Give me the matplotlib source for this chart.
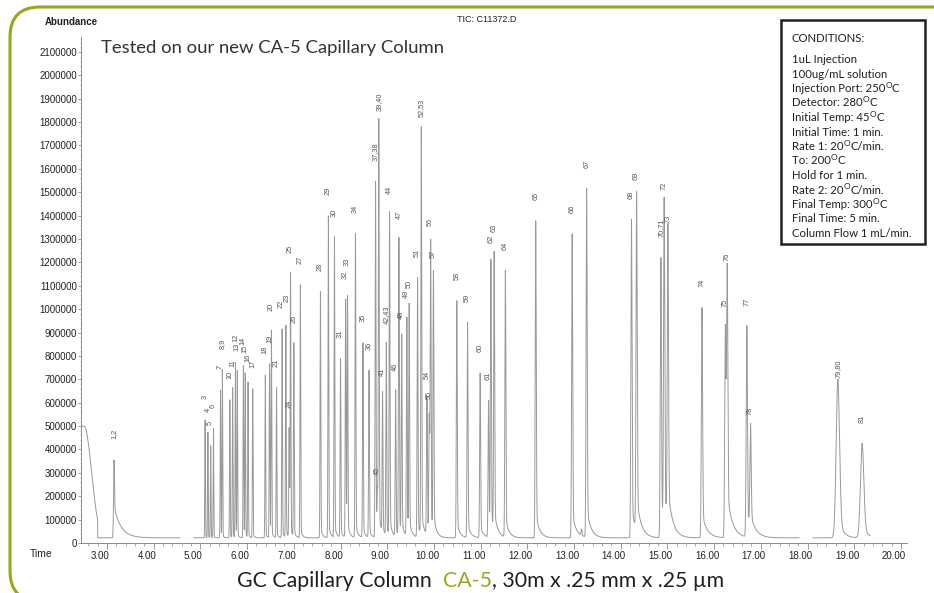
import numpy as np
import matplotlib
matplotlib.use("Agg")
import matplotlib.pyplot as plt
from matplotlib.patches import FancyBboxPatch, Rectangle
from matplotlib.transforms import ScaledTranslation

# ---- data (time in min, abundance) ----
peak_labels = ["1,2", "3", "4", "5", "6", "7", "8,9", "10", "11", "12", "13", "14", "15",
               "16", "17", "18", "19", "20", "21", "22", "23", "24", "25", "26", "27", "28",
               "29", "30", "31", "32", "33", "34", "35", "36", "37,38", "39,40", "45", "41",
               "42,43", "44", "46", "47", "48", "49", "50", "51", "52,53", "54", "55", "56",
               "57", "58", "59", "60", "61", "62", "63", "64", "65", "66", "", "67", "68",
               "69", "70,71", "72", "73", "74", "75", "76", "77", "78", "79,80", "81"]
peak_times = [3.15, 5.10, 5.16, 5.22, 5.28, 5.43, 5.47, 5.63, 5.69, 5.75, 5.79, 5.92, 5.96,
              6.02, 6.12, 6.39, 6.48, 6.52, 6.63, 6.75, 6.83, 6.90, 6.93, 7.00, 7.14, 7.57,
              7.74, 7.87, 8.00, 8.11, 8.15, 8.32, 8.48, 8.61, 8.75, 8.82, 8.79, 8.90,
              8.98, 9.05, 9.18, 9.25, 9.31, 9.42, 9.47, 9.65, 9.73, 9.85, 9.90, 9.93,
              9.99, 10.49, 10.72, 10.99, 11.17, 11.22, 11.29, 11.53, 12.18, 12.96, 13.16, 13.27, 14.23,
              14.34, 14.86, 14.93, 15.01, 15.74, 16.24, 16.28, 16.70, 16.78, 18.65, 19.17]
peak_heights = [355000, 526000, 473000, 415000, 489000, 654000, 740000, 612000, 663000, 770000,
                733000, 758000, 723000, 686000, 659000, 718000, 765000, 904000, 664000, 915000,
                928000, 488000, 1150000, 850000, 1103000, 1075000, 1398000, 1307000, 787000,
                1040000, 1040000, 1322000, 854000, 736000, 1545000, 1790000, 200000, 626000,
                847000, 1403000, 648000, 1296000, 868000, 957000, 1000000, 1132000, 1764000,
                612000, 526000, 1266000, 1128000, 1036000, 942000, 726000, 607000, 1192000,
                1210000, 1163000, 1378000, 1322000, 50000, 1514000, 1384000, 1463000, 1220000,
                1420000, 1278000, 1006000, 922000, 1118000, 925000, 459000, 701000, 426000]

solvent_time = 2.51
solvent_height = 500000
solvent_end = 2.80
trace_start, trace_end = 2.47, 19.34
trace_gaps = [(4.56, 4.86), (17.82, 18.12)]
baseline = 22000

x_ticks = list(range(3, 21))
y_ticks = list(range(0, 2100001, 100000))

# "^" marks where a raised capital O (degree sign) goes
conditions = ["1uL Injection", "100ug/mL solution", "Injection Port: 250^C",
              "Detector: 280^C", "Initial Temp: 45^C", "Initial Time: 1 min.",
              "Rate 1: 20^C/min.", "To: 200^C", "Hold for 1 min.", "Rate 2: 20^C/min.",
              "Final Temp: 300^C", "Final Time: 5 min.", "Column Flow 1 mL/min."]

# label shifts (points) for a few labels that were moved to avoid overlap
label_nudge = {"33": (0, 9), "63": (0, 5), "79,80": (0, -14), "39,40": (0, -5),
               "52,53": (0, -5), "22": (-0.8, 0), "23": (0.8, 2)}

OLIVE = "#9aa61e"
plt.rcParams["font.family"] = ["Liberation Sans", "DejaVu Sans"]


def peak_shape(t):
    if t < 4:
        return 0.010, 0.40, 0.15
    if t > 18:
        return 0.036, 0.15, 0.09
    s = 0.0065 + 0.0006 * (t - 5)
    f = min(max(0.02 + 0.008 * (t - 5), 0.02), 0.12)
    tau = 0.02 + 0.008 * (t - 5)
    return s, f, tau


def peak(x, t, h, s, f, tau):
    d = x - t
    g = np.exp(-0.5 * (d / s) ** 2)
    tail = np.where(d > 0, np.exp(-np.clip(d, 0, None) / tau), g)
    return h * ((1 - f) * g + f * tail)


x = np.arange(trace_start, trace_end, 0.0005)
y = np.full_like(x, baseline, dtype=float)
solv = solvent_height * np.exp(-0.5 * (np.clip(x - solvent_time, 0, None) / 0.16) ** 2)
y = np.where(x < solvent_end, solv, y)
for t, h in zip(peak_times, peak_heights):
    s, f, tau = peak_shape(t)
    y += peak(x, t, h - baseline, s, f, tau)
for a, b in trace_gaps:
    y[(x > a) & (x < b)] = np.nan

fig = plt.figure(figsize=(9.34, 5.93), dpi=100)
ax = fig.add_axes([81 / 934, 50 / 593, 826 / 934, 506 / 593])
ax.plot(x, y, color="#999999", lw=0.7)

ax.set_xlim(2.443, 20.13)
ax.set_ylim(0, 2164000)
for sp in ("top", "right"):
    ax.spines[sp].set_visible(False)
for sp in ("left", "bottom"):
    ax.spines[sp].set_color("#8a8a8a")
    ax.spines[sp].set_linewidth(0.7)

ax.set_xticks(x_ticks)
ax.set_xticklabels([f"{v:.2f}" for v in x_ticks])
ax.set_xticks(np.arange(2.6, 20.2, 0.2), minor=True)
ax.set_yticks(y_ticks)
ax.set_yticklabels([str(v) for v in y_ticks])
ax.set_yticks(np.arange(0, 2160000, 20000), minor=True)
ax.tick_params(axis="x", which="major", length=4, width=0.6, color="#8a8a8a",
               labelsize=7, labelcolor="#222222", pad=1.5)
ax.tick_params(axis="x", which="minor", length=2, width=0.5, color="#8a8a8a")
ax.tick_params(axis="y", which="major", length=2.5, width=0.6, color="#8a8a8a",
               labelsize=7, labelcolor="#222222", pad=0.5)
ax.tick_params(axis="y", which="minor", length=1, width=0.4, color="#8a8a8a")
shift = ScaledTranslation(-7 / 100, 0, fig.dpi_scale_trans)
for lab in ax.get_xticklabels():
    lab.set_transform(lab.get_transform() + shift)

for lab, t, h in zip(peak_labels, peak_times, peak_heights):
    if not lab:
        continue
    dx, dy = label_nudge.get(lab, (0, 0))
    ax.annotate(lab, (t, h), xytext=(dx, 15 + dy),
                textcoords="offset points", rotation=90, ha="center", va="bottom",
                fontsize=5.3, color="#555555")

fig.text(45 / 934, 1 - 22 / 593, "Abundance", fontsize=7, fontweight="bold",
         color="#222222", va="center", ha="left")
fig.text(30 / 934, 1 - 554 / 593, "Time", fontsize=7.5, color="#222222",
         va="center", ha="left")
fig.text(487 / 934, 1 - 20 / 593, "TIC: C11372.D", fontsize=6.5, color="#222222",
         va="center", ha="center")
fig.text(101 / 934, 1 - 48 / 593, "Tested on our new CA-5 Capillary Column",
         fontsize=13.3, family="Lato", color="#333333", va="center", ha="left")

fig.canvas.draw()
r = fig.canvas.get_renderer()


def text_run(x_px, y_px, pieces, z=6):
    # pieces: (text, fontsize, color, raise_px); placed one after another on a baseline
    for txt, size, col, lift in pieces:
        t = fig.text(x_px / 934, (593 - y_px + lift) / 593, txt, fontsize=size,
                     family="Lato", color=col, va="baseline", ha="left", zorder=z)
        x_px = t.get_window_extent(r).x1


# bottom caption, with the column name in olive
text_run(237, 587, [("GC Capillary Column  ", 15.3, "#231f20", 0),
                    ("CA-5", 15.3, OLIVE, 0),
                    (", 30m x .25 mm x .25 µm", 15.3, "#231f20", 0)])

# conditions box
fig.patches.append(Rectangle((781, 593 - 244), 144, 224, transform=None,
                             facecolor="white", edgecolor="#231f20", lw=1.8, zorder=5))
text_run(792, 42, [("CONDITIONS:", 8.2, "#231f20", 0)])
for i, line in enumerate(conditions):
    yb = 63 + 14.5 * i
    if "^" in line:
        a, b = line.split("^")
        text_run(792, yb, [(a, 8.2, "#231f20", 0), ("O", 6.0, "#231f20", 4),
                           (b, 8.2, "#231f20", 0)])
    else:
        text_run(792, yb, [(line, 8.2, "#231f20", 0)])

# olive rounded frame, running off the right and bottom edges
fig.patches.append(FancyBboxPatch((10, -8), 1000, 593 - 7 + 8, transform=None,
                                  boxstyle="round,pad=0,rounding_size=30",
                                  facecolor="none", edgecolor=OLIVE, lw=2.2, zorder=0))

fig.savefig("out.png", dpi=100)
